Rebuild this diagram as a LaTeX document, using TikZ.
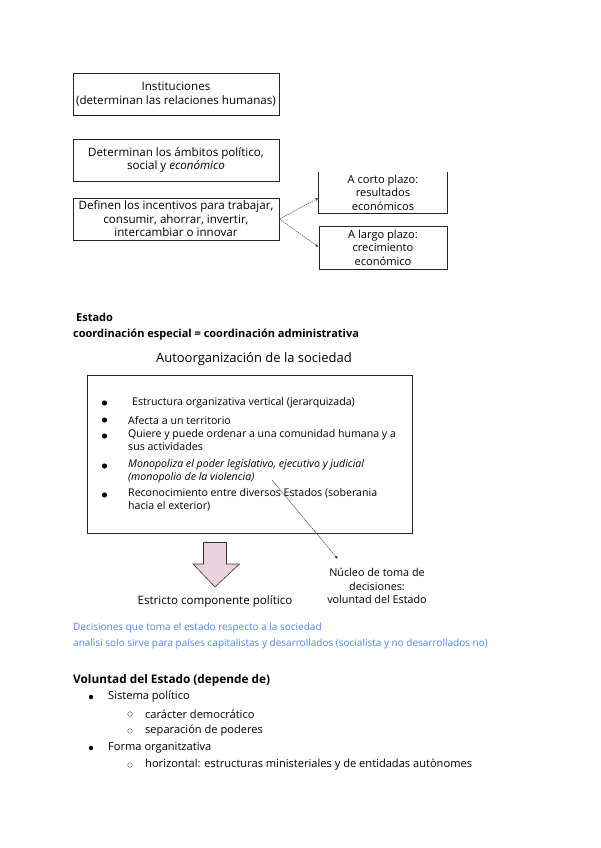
\documentclass[tikz,border=0pt]{standalone}
\usepackage{fontspec}
\setmainfont{Open Sans}
\usetikzlibrary{arrows.meta,shapes.arrows}
\definecolor{linkblue}{HTML}{4A86E8}
\definecolor{pinkfill}{HTML}{EAD1DC}
\tikzset{
  boxa/.style={draw=black!85,line width=0.8pt,inner sep=0pt,align=center,font=\fontsize{11.6}{13.6}\selectfont},
  smallt/.style={inner sep=0pt,align=center,font=\fontsize{11.1}{13.6}\selectfont},
  txt/.style={anchor=west,inner sep=0pt,font=\fontsize{10.6}{13.5}\selectfont},
  ltxt/.style={anchor=west,inner sep=0pt,font=\fontsize{11.1}{13.5}\selectfont},
  boldt/.style={anchor=west,inner sep=0pt,font=\fontsize{11}{13}\selectfont\bfseries},
  bluet/.style={anchor=west,inner sep=0pt,text=linkblue,font=\fontsize{10}{12}\selectfont},
  dline/.style={draw=black!70,line width=0.5pt,dash pattern=on 1.5pt off 0.8pt,-{Latex[length=3pt,width=3pt]}},
  bul/.style={circle,fill=black,inner sep=0pt,minimum size=5.2pt},
  obul/.style={circle,draw=black!70,line width=0.4pt,inner sep=0pt,minimum size=4.6pt},
}
\begin{document}
\begin{tikzpicture}[x=1pt,y=-1pt]
\useasboundingbox (0,0) rectangle (600,848);
% top boxes
\node[boxa,minimum width=206pt,minimum height=42pt] (inst) at (176,94) {Instituciones\\(determinan las relaciones humanas)};
\node[boxa,minimum width=206pt,minimum height=42pt] (amb) at (176,160) {Determinan los ámbitos político,\\social y \textit{económico}};
\node[boxa,minimum width=206pt,minimum height=42pt] (inc) at (176,219) {Definen los incentivos para trabajar,\\consumir, ahorrar, invertir,\\intercambiar o innovar};
\node[smallt,minimum width=128pt,minimum height=41pt] (corto) at (383,192.5) {A corto plazo:\\resultados\\económicos};
\draw[black!85,line width=0.8pt] (corto.north west) -- (corto.south west) -- (corto.south east) -- (corto.north east);
\node[smallt,draw=black!85,line width=0.8pt,minimum width=128pt,minimum height=43pt] (largo) at (383,247.5) {A largo plazo:\\crecimiento\\económico};
\coordinate (c1) at (318.5,198);
\coordinate (c2) at (318.5,247);
\draw[dline] (inc.east) -- (c1);
\draw[dline] (inc.east) -- (c2);
% Estado
\node[boldt] (estado) at (76,317) {Estado};
\node[boldt] (coord) at (73,335) {coordinación especial = coordinación administrativa};
\node[inner sep=0pt,font=\fontsize{13}{15}\selectfont] (auto) at (254,359) {Autoorganización de la sociedad};
\draw[black!85,line width=0.8pt] (87,375) rectangle (412.5,533);
\node[bul] (b1) at (104.5,403) {};
\node[bul] (b2) at (104.5,420) {};
\node[bul] (b3) at (104.5,436) {};
\node[bul] (b4) at (104.5,466) {};
\node[bul] (b5) at (104.5,495) {};
\node[txt] (t1) at (132,403) {Estructura organizativa vertical (jerarquizada)};
\node[txt] (t2) at (128,420) {Afecta a un territorio};
\node[txt,align=left,anchor=north west] (t3) at (128,429) {Quiere y puede ordenar a una comunidad humana y a\\sus actividades};
\node[txt,align=left,anchor=north west] (t4) at (128,459) {\itshape Monopoliza el poder legislativo, ejecutivo y judicial\\\itshape (monopolio de la violencia)};
\node[txt,align=left,anchor=north west] (t5) at (128,488) {Reconocimiento entre diversos Estados (soberania\\hacia el exterior)};
\coordinate (ls) at (272,480);
\node[smallt,font=\fontsize{10.8}{13.2}\selectfont] (nucleo) at (377,586) {Núcleo de toma de\\decisiones:\\voluntad del Estado};
\coordinate (le) at (337,558);
\draw[draw=black!75,line width=0.5pt,dash pattern=on 2pt off 0.6pt,-{Square[length=2pt,width=2pt]}] (ls) -- (le);
% block arrow
\draw[black!80,line width=0.6pt,fill=pinkfill] (203.5,542.5) -- (226.5,542.5) -- (226.5,564) -- (239.5,564) -- (215,587) -- (193,564) -- (203.5,564) -- cycle;
\node[inner sep=0pt,font=\fontsize{11.6}{13}\selectfont] (estricto) at (215,601) {Estricto componente político};
% blue notes
\node[bluet] (n1) at (73,628) {Decisiones que toma el estado respecto a la sociedad};
\node[bluet] (n2) at (73,644) {analisi solo sirve para países capitalistas y desarrollados (socialista y no desarrollados no)};
% Voluntad
\node[boldt,font=\fontsize{11.8}{13}\selectfont\bfseries] (vol) at (73,680) {Voluntad del Estado (depende de)};
\node[bul,minimum size=4.4pt] (v1) at (91,697) {};
\node[ltxt] (vt1) at (108,697) {Sistema político};
\node[obul] (v2) at (130,714) {};
\node[ltxt] (vt2) at (145,714) {carácter democrático};
\node[obul] (v3) at (130,731) {};
\node[ltxt] (vt3) at (145,731) {separación de poderes};
\node[bul,minimum size=4.4pt] (v4) at (91,748) {};
\node[ltxt] (vt4) at (108,748) {Forma organitzativa};
\node[obul] (v5) at (130,765) {};
\node[ltxt] (vt5) at (145,765) {horizontal: estructuras ministeriales y de entidadas autònomes};
\end{tikzpicture}
\end{document}
